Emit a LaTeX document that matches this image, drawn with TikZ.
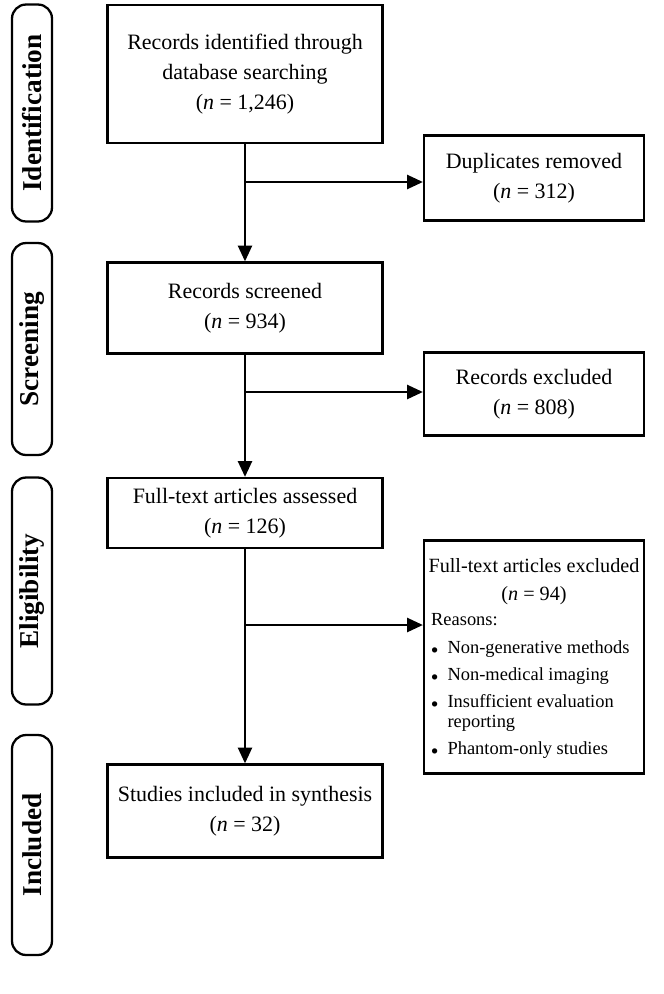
\documentclass[tikz,border=0pt]{standalone}
\usepackage{fontspec}
\setmainfont{Liberation Serif}
\usetikzlibrary{arrows.meta}
\begin{document}
\begin{tikzpicture}[x=0.02cm,y=-0.02cm,>={Triangle[length=9pt,width=8pt]},line width=1.3pt,
  stage/.style={draw,rounded corners=8pt,minimum width=0.8cm,inner sep=0pt,font=\fontsize{15.5}{18}\selectfont\bfseries},
  step box/.style={draw,align=center,inner sep=0pt,font=\fontsize{12.5}{17}\selectfont}]
\useasboundingbox (0,0) rectangle (663,994);

% stage labels
\node (ident) [stage,minimum height=4.34cm] at (32,113) {\rotatebox{90}{Identification}};
\node (screen) [stage,minimum height=4.24cm] at (32,349) {\rotatebox{90}{Screening}};
\node (elig) [stage,minimum height=4.54cm] at (32,591) {\rotatebox{90}{Eligibility}};
\node (incl) [stage,minimum height=4.4cm] at (32,845) {\rotatebox{90}{Included}};

% main boxes
\node (found) [step box,minimum width=5.5cm,minimum height=2.76cm] at (245,74)
  {Records identified through\\database searching\\(\textit{n} = 1,246)};
\node (dups) [step box,minimum width=4.4cm,minimum height=1.7cm] at (534,178)
  {Duplicates removed\\(\textit{n} = 312)};
\node (screened) [step box,minimum width=5.5cm,minimum height=1.82cm] at (245,308)
  {Records screened\\(\textit{n} = 934)};
\node (excl) [step box,minimum width=4.4cm,minimum height=1.66cm] at (534,394)
  {Records excluded\\(\textit{n} = 808)};
\node (full) [step box,minimum width=5.5cm,minimum height=1.4cm] at (245,513)
  {Full-text articles assessed\\(\textit{n} = 126)};
\node (ftexcl) [step box,minimum width=4.4cm,minimum height=4.66cm] at (534,657)
  {};
\node (ftexcltxt) [align=center,font=\fontsize{11.5}{16}\selectfont,anchor=north] at (534,551)
  {Full-text articles excluded\\(\textit{n} = 94)};
\node (reasons) [align=left,anchor=north west,font=\fontsize{10.5}{15.3}\selectfont,inner sep=0pt] at (430,612)
  {Reasons:\\[1pt]
   {\scriptsize$\bullet$}\ \ Non-generative methods\\
   {\scriptsize$\bullet$}\ \ Non-medical imaging\\
   {\scriptsize$\bullet$}\ \ Insufficient evaluation\\[-4pt]
   \phantom{{\scriptsize$\bullet$}\ \ }reporting\\
   {\scriptsize$\bullet$}\ \ Phantom-only studies};
\node (studies) [step box,minimum width=5.5cm,minimum height=1.86cm] at (245,811)
  {Studies included in synthesis\\(\textit{n} = 32)};

% connectors
\coordinate (b1) at (245,182);
\coordinate (b2) at (245,392);
\coordinate (b3) at (245,625);
\draw [->] (found) -- (screened);
\draw [->] (b1) -- (b1 -| dups.west);
\draw [->] (screened) -- (full);
\draw [->] (b2) -- (b2 -| excl.west);
\draw [->] (full) -- (studies);
\draw [->] (b3) -- (b3 -| ftexcl.west);
\end{tikzpicture}
\end{document}
